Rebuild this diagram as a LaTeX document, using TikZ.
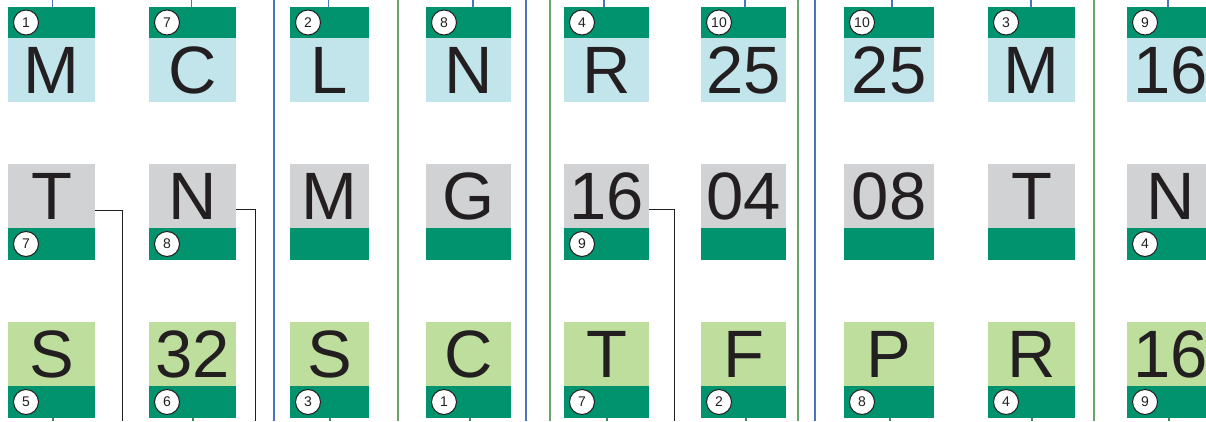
\documentclass[tikz,border=0pt]{standalone}
\usepackage{fontspec}
\setmainfont{Liberation Sans}
\usetikzlibrary{calc}
\definecolor{dg}{RGB}{0,147,110}
\definecolor{lb}{RGB}{194,229,235}
\definecolor{gr}{RGB}{209,210,212}
\definecolor{lg}{RGB}{189,222,156}
\definecolor{bl}{RGB}{74,116,192}
\definecolor{gl}{RGB}{106,166,106}
\definecolor{ink}{RGB}{35,31,32}
\definecolor{stubg}{RGB}{60,140,90}
\tikzset{
  band/.style={draw=none, inner sep=0pt, outer sep=0pt, anchor=north west},
  big/.style={font=\fontsize{67}{67}\selectfont, text=ink, inner sep=0pt, anchor=base},
  num/.style={circle, draw=ink, fill=white, line width=1pt, minimum size=25pt, inner sep=0pt, font=\fontsize{14}{14}\selectfont, text=ink},
  sepb/.style={draw=bl, line width=1.2pt},
  sepg/.style={draw=gl, line width=1.2pt},
  conn/.style={draw=ink, line width=1pt},
  stubt/.style={draw=bl, line width=1.2pt},
  stubb/.style={draw=stubg, line width=1.2pt}
}
% name, x, width, num, text
\newcommand\upcell[5]{%
  \node[band, fill=dg, minimum width=#3, minimum height=31] (#1h) at (#2,7) {};
  \node[band, fill=lb, minimum width=#3, minimum height=63.5] (#1b) at (#2,38) {};
  \node[big] (#1t) at ($(#1b.north)+(0,55)$) {#5};
  \node[num] (#1n) at ($(#1h.west)+(18,0)$) {#4};
}
% name, x, y, width, fill, num, text
\newcommand\lowcell[7]{%
  \node[band, fill=#5, minimum width=#4, minimum height=64] (#1b) at (#2,#3) {};
  \node[band, fill=dg, minimum width=#4, minimum height=32] (#1h) at (#2,#3+64) {};
  \node[big] (#1t) at ($(#1b.north)+(0,55)$) {#7};
  \if\relax\detokenize{#6}\relax\else
  \node[num] (#1n) at ($(#1h.west)+(18,0)$) {#6};
  \fi
}
\begin{document}
\begin{tikzpicture}[x=1pt,y=-1pt]
\useasboundingbox (0,0) rectangle (1206,421);
\clip (0,0) rectangle (1206,421);
% separators
\draw[sepb] (274,0) -- (274,421);
\draw[sepg] (398,0) -- (398,421);
\draw[sepb] (526,0) -- (526,421);
\draw[sepg] (550,0) -- (550,421);
\draw[sepg] (798,0) -- (798,421);
\draw[sepb] (815,0) -- (815,421);
\draw[sepg] (1094,0) -- (1094,421);
% top row
\upcell{a1}{8}{87}{1}{M}
\upcell{a2}{149}{87}{7}{C}
\upcell{a3}{290}{79}{2}{L}
\upcell{a4}{426}{85}{8}{N}
\upcell{a5}{564}{85}{4}{R}
\upcell{a6}{701}{85}{10}{25}
\upcell{a7}{844}{90}{10}{25}
\upcell{a8}{988}{87}{3}{M}
\upcell{a9}{1127}{87}{9}{16}
% middle row
\lowcell{b1}{8}{164}{87}{gr}{7}{T}
\lowcell{b2}{149}{164}{87}{gr}{8}{N}
\lowcell{b3}{290}{164}{79}{gr}{}{M}
\lowcell{b4}{426}{164}{85}{gr}{}{G}
\lowcell{b5}{564}{164}{85}{gr}{9}{16}
\lowcell{b6}{701}{164}{85}{gr}{}{04}
\lowcell{b7}{844}{164}{90}{gr}{}{08}
\lowcell{b8}{988}{164}{87}{gr}{}{T}
\lowcell{b9}{1127}{164}{87}{gr}{4}{N}
% bottom row
\lowcell{c1}{8}{322}{87}{lg}{5}{S}
\lowcell{c2}{149}{322}{87}{lg}{6}{32}
\lowcell{c3}{290}{322}{79}{lg}{3}{S}
\lowcell{c4}{426}{322}{85}{lg}{1}{C}
\lowcell{c5}{564}{322}{85}{lg}{7}{T}
\lowcell{c6}{701}{322}{85}{lg}{2}{F}
\lowcell{c7}{844}{322}{90}{lg}{8}{P}
\lowcell{c8}{988}{322}{87}{lg}{4}{R}
\lowcell{c9}{1127}{322}{87}{lg}{9}{16}
% top stubs
\foreach \n/\x in {a1/52.7,a2/191.7,a3/328.7,a4/473,a5/604,a6/745,a7/892,a8/1031,a9/1168}{
  \coordinate (\n s) at (\x,0);
  \draw[stubt] (\n s) -- (\n s |- \n h.north);
}
% bottom stubs
\foreach \n/\x in {c1/53,c2/193,c3/330,c4/470,c5/607,c6/746,c7/890,c8/1032,c9/1169}{
  \coordinate (\n e) at (\x,421);
  \draw[stubb] (\n e |- \n h.south) -- (\n e);
}
% connectors
\coordinate (k1) at (122.5,421);
\coordinate (k2) at (255.5,421);
\coordinate (k5) at (674,421);
\draw[conn] ($(b1b.north east)+(0,46)$) -| (k1);
\draw[conn] ($(b2b.north east)+(0,45)$) -| (k2);
\draw[conn] ($(b5b.north east)+(0,45)$) -| (k5);
\end{tikzpicture}
\end{document}
